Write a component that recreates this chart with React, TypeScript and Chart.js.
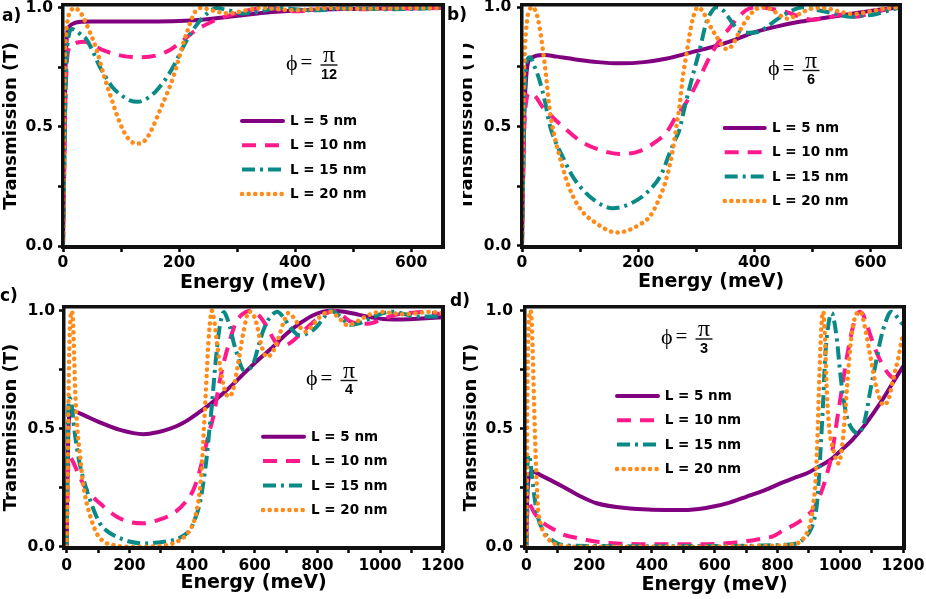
import React, { useEffect, useRef } from 'react';
import { Chart, registerables } from 'chart.js';

Chart.register(...registerables);

type Pt = [number, number];

const seriesLabels = ['L = 5 nm', 'L = 10 nm', 'L = 15 nm', 'L = 20 nm'];
const seriesColors = ['#800080', '#FF1A8C', '#0A8A86', '#FF8C1A'];
const seriesWidths = [4, 4, 4, 4.5];
const seriesDash: number[][] = [[], [14, 9], [13, 5, 3, 5], [0.1, 6.5]];
const seriesCap = ['round', 'butt', 'butt', 'round'];

const xTicksShort = [0, 100, 200, 300, 400, 500, 600];
const xTicksLong = [0, 100, 200, 300, 400, 500, 600, 700, 800, 900, 1000, 1100, 1200];
const yTicks = [0, 0.25, 0.5, 0.75, 1];
const yLabeled = [0, 0.5, 1];
const xLabelEvery = 200;
const phiDenominators = ['12', '6', '4', '3'];
const panelLetters = ['a)', 'b)', 'c)', 'd)'];
const xTitle = 'Energy (meV)';
const yTitle = 'Transmission (T)';

// ---- panel a : phi = pi/12 ----
const a5: Pt[] = [[0,0],[2,0.35],[4,0.72],[6,0.86],[8,0.905],[12,0.925],[18,0.935],[28,0.941],[50,0.943],[100,0.943],[150,0.943],[200,0.945],[240,0.951],[280,0.961],[320,0.973],[360,0.983],[400,0.99],[450,0.994],[500,0.996],[550,0.998],[600,0.999],[655,1.0]];
const a10: Pt[] = [[0,0],[2,0.3],[4,0.6],[7,0.78],[10,0.83],[15,0.845],[25,0.855],[37,0.858],[50,0.845],[70,0.822],[100,0.8],[130,0.793],[160,0.8],[185,0.825],[205,0.86],[225,0.9],[250,0.935],[275,0.96],[300,0.978],[325,0.993],[350,1.0],[375,0.995],[400,0.986],[430,0.99],[470,0.998],[520,0.995],[580,0.998],[655,1.0]];
const a15: Pt[] = [[0,0],[2,0.3],[4,0.6],[7,0.82],[10,0.885],[15,0.912],[22,0.905],[30,0.89],[40,0.87],[52,0.815],[63,0.755],[75,0.705],[86,0.665],[100,0.635],[115,0.612],[129,0.606],[145,0.62],[160,0.65],[175,0.695],[190,0.753],[210,0.85],[230,0.928],[250,0.98],[265,1.0],[285,0.99],[310,0.977],[340,0.985],[370,1.0],[400,0.995],[430,0.99],[480,0.998],[560,0.995],[655,1.0]];
const a20: Pt[] = [[0,0],[1.5,0.4],[3,0.75],[5,0.88],[9,0.96],[14,0.99],[20,1.0],[27,0.99],[33,0.97],[39,0.94],[46,0.9],[58,0.824],[70,0.72],[82,0.63],[92,0.557],[105,0.48],[117,0.44],[129,0.43],[142,0.445],[155,0.5],[167,0.57],[180,0.645],[190,0.71],[200,0.79],[207,0.85],[214,0.9],[221,0.95],[228,0.985],[237,1.0],[250,0.995],[265,0.985],[285,0.977],[305,0.985],[330,0.997],[345,1.0],[370,0.995],[400,0.99],[430,0.995],[460,1.0],[500,0.997],[550,0.998],[600,1.0],[655,1.0]];

// ---- panel b : phi = pi/6 ----
const b5: Pt[] = [[0,0],[2,0.3],[4,0.55],[7,0.7],[10,0.765],[15,0.785],[25,0.797],[39,0.8],[60,0.793],[90,0.782],[130,0.77],[170,0.765],[210,0.77],[250,0.785],[290,0.81],[330,0.835],[360,0.858],[400,0.895],[440,0.92],[480,0.94],[520,0.955],[560,0.97],[600,0.985],[651,1.0]];
const b10: Pt[] = [[0,0],[2,0.3],[4,0.5],[7,0.6],[12,0.64],[20,0.635],[36,0.58],[50,0.545],[70,0.5],[100,0.44],[130,0.405],[168,0.385],[200,0.395],[230,0.435],[250,0.48],[265,0.54],[280,0.59],[290,0.63],[305,0.7],[323,0.79],[340,0.86],[357,0.912],[375,0.965],[392,0.995],[410,1.0],[430,0.993],[450,0.985],[475,0.963],[500,0.948],[525,0.955],[550,0.97],[575,0.96],[600,0.975],[625,0.99],[651,1.0]];
const b15: Pt[] = [[0,0],[2,0.3],[4,0.6],[7,0.75],[10,0.785],[14,0.79],[20,0.76],[30,0.695],[40,0.6],[47,0.513],[57,0.44],[70,0.373],[85,0.3],[100,0.248],[125,0.19],[156,0.157],[190,0.18],[220,0.234],[240,0.3],[254,0.387],[263,0.44],[271,0.485],[280,0.58],[289,0.667],[298,0.75],[306,0.821],[317,0.933],[326,0.98],[335,1.0],[345,0.99],[355,0.96],[365,0.925],[375,0.9],[390,0.893],[404,0.895],[420,0.915],[438,0.947],[460,0.98],[484,1.0],[505,0.99],[536,0.975],[567,0.96],[590,0.965],[607,0.97],[630,0.985],[651,1.0]];
const b20: Pt[] = [[0,0],[1,0.3],[2.5,0.6],[5,0.82],[9,0.95],[13,0.99],[18,1.0],[24,0.98],[30,0.92],[36,0.82],[42,0.7],[47,0.583],[55,0.47],[65,0.373],[76,0.28],[88,0.206],[105,0.14],[128,0.094],[145,0.068],[162,0.055],[180,0.062],[200,0.085],[220,0.122],[235,0.19],[248,0.276],[258,0.38],[266,0.5],[272,0.6],[277,0.709],[283,0.8],[289,0.89],[295,0.96],[303,1.0],[312,0.98],[322,0.93],[335,0.877],[345,0.84],[352,0.825],[362,0.84],[375,0.9],[390,0.96],[405,0.995],[416,1.0],[430,0.99],[445,0.965],[458,0.952],[472,0.965],[488,0.985],[505,0.997],[525,0.995],[550,0.98],[571,0.972],[600,0.983],[625,0.995],[651,1.0]];

// ---- panel c : phi = pi/4 ----
const c5: Pt[] = [[0,0],[2,0.25],[5,0.48],[10,0.565],[20,0.575],[42,0.565],[100,0.53],[170,0.495],[245,0.477],[290,0.485],[330,0.5],[365,0.52],[394,0.543],[425,0.572],[457,0.603],[495,0.645],[532,0.69],[570,0.74],[610,0.79],[659,0.847],[700,0.9],[745,0.947],[785,0.98],[819,0.996],[845,1.0],[880,0.997],[915,0.988],[960,0.975],[1010,0.965],[1064,0.963],[1120,0.966],[1201,0.972]];
const c10: Pt[] = [[0,0],[2,0.2],[5,0.34],[10,0.38],[20,0.36],[40,0.3],[64,0.24],[106,0.184],[160,0.127],[200,0.105],[245,0.099],[290,0.112],[340,0.141],[380,0.19],[404,0.24],[420,0.3],[436,0.381],[452,0.47],[468,0.551],[489,0.706],[505,0.8],[521,0.876],[537,0.94],[553,0.975],[570,0.993],[585,1.0],[600,0.993],[617,0.975],[640,0.93],[665,0.87],[690,0.85],[720,0.87],[760,0.92],[800,0.965],[830,0.99],[851,1.0],[875,0.985],[904,0.955],[940,0.945],[968,0.946],[1000,0.96],[1043,0.98],[1090,0.99],[1139,0.995],[1170,0.99],[1201,0.985]];
const c15: Pt[] = [[0,0],[2,0.3],[5,0.58],[10,0.63],[16,0.6],[24,0.5],[32,0.424],[45,0.33],[64,0.24],[85,0.16],[106,0.099],[130,0.065],[160,0.042],[200,0.022],[245,0.014],[290,0.018],[340,0.028],[370,0.045],[393,0.07],[410,0.12],[425,0.184],[437,0.28],[447,0.381],[455,0.49],[463,0.593],[471,0.72],[479,0.833],[488,0.93],[497,0.985],[502,0.995],[510,0.975],[521,0.932],[532,0.87],[543,0.819],[555,0.77],[564,0.749],[580,0.752],[596,0.777],[612,0.85],[628,0.918],[645,0.965],[662,0.99],[672,0.996],[690,0.975],[712,0.932],[735,0.9],[750,0.895],[770,0.905],[798,0.932],[820,0.97],[840,1.0],[860,0.99],[880,0.965],[904,0.94],[930,0.945],[957,0.96],[990,0.98],[1020,0.993],[1043,0.996],[1080,0.985],[1117,0.975],[1160,0.975],[1201,0.975]];
const c20: Pt[] = [[0,0],[3,0.3],[6,0.65],[9,0.88],[12,0.97],[16,0.998],[20,0.96],[24,0.8],[27,0.664],[34,0.5],[43,0.381],[52,0.27],[64,0.184],[80,0.11],[96,0.056],[120,0.02],[149,0.007],[200,0.0],[250,0.0],[300,0.003],[330,0.01],[361,0.028],[385,0.055],[404,0.099],[416,0.16],[425,0.24],[431,0.33],[436,0.452],[442,0.6],[447,0.734],[452,0.86],[457,0.946],[463,1.0],[470,0.965],[478,0.88],[490,0.76],[503,0.67],[516,0.636],[530,0.66],[545,0.76],[560,0.88],[572,0.96],[580,0.996],[592,0.99],[605,0.95],[620,0.86],[638,0.805],[655,0.82],[675,0.88],[692,0.95],[707,0.99],[725,0.97],[745,0.93],[761,0.911],[780,0.93],[805,0.97],[825,0.99],[840,0.996],[860,0.98],[880,0.955],[894,0.94],[915,0.945],[940,0.965],[970,0.985],[1000,0.995],[1040,0.99],[1080,0.985],[1120,0.99],[1160,0.995],[1201,0.99]];

// ---- panel d : phi = pi/3 ----
const d5: Pt[] = [[0,0],[2,0.15],[5,0.26],[10,0.305],[21,0.318],[50,0.3],[117,0.254],[170,0.215],[224,0.184],[330,0.162],[400,0.157],[479,0.155],[550,0.16],[596,0.17],[650,0.188],[702,0.212],[760,0.24],[809,0.268],[850,0.29],[894,0.311],[930,0.338],[967,0.367],[1000,0.405],[1040,0.455],[1075,0.51],[1105,0.565],[1138,0.63],[1170,0.7],[1203,0.77]];
const d10: Pt[] = [[0,0],[2,0.1],[5,0.17],[9,0.185],[15,0.17],[25,0.145],[43,0.113],[60,0.095],[85,0.075],[120,0.05],[170,0.035],[220,0.022],[300,0.013],[400,0.01],[500,0.01],[600,0.012],[680,0.02],[755,0.035],[787,0.045],[819,0.07],[862,0.1],[890,0.127],[915,0.16],[930,0.2],[947,0.26],[958,0.31],[968,0.36],[979,0.44],[989,0.53],[1000,0.625],[1011,0.72],[1022,0.81],[1032,0.88],[1042,0.94],[1052,0.98],[1062,0.996],[1072,0.985],[1085,0.94],[1100,0.88],[1120,0.81],[1138,0.763],[1155,0.73],[1170,0.715],[1185,0.72],[1203,0.745]];
const d15: Pt[] = [[0,0],[2,0.2],[4,0.35],[8,0.39],[12,0.37],[18,0.3],[26,0.21],[38,0.12],[53,0.07],[80,0.03],[117,0.007],[200,0.003],[400,0.002],[600,0.003],[750,0.005],[820,0.008],[862,0.014],[885,0.035],[905,0.07],[918,0.12],[926,0.184],[931,0.27],[936,0.381],[941,0.5],[946,0.63],[952,0.805],[960,0.92],[967,0.975],[973,0.99],[980,0.96],[990,0.87],[1000,0.734],[1010,0.63],[1021,0.55],[1037,0.5],[1058,0.48],[1075,0.52],[1085,0.58],[1096,0.664],[1112,0.77],[1128,0.876],[1145,0.955],[1162,0.996],[1180,0.975],[1197,0.946],[1203,0.94]];
const d20: Pt[] = [[0,0],[2,0.35],[4,0.7],[7,0.92],[10,0.985],[13,1.0],[16,0.98],[20,0.85],[25,0.6],[30,0.38],[37,0.17],[45,0.1],[55,0.06],[64,0.042],[80,0.02],[100,0.008],[150,0.0],[300,0.0],[500,0.0],[700,0.002],[800,0.005],[862,0.014],[890,0.05],[905,0.1],[914,0.18],[921,0.27],[927,0.45],[932,0.664],[937,0.85],[942,0.975],[946,0.996],[951,0.9],[957,0.664],[965,0.5],[978,0.41],[994,0.353],[1008,0.45],[1021,0.664],[1032,0.85],[1042,0.946],[1053,0.99],[1064,0.996],[1080,0.92],[1096,0.805],[1117,0.664],[1138,0.6],[1155,0.63],[1170,0.72],[1185,0.8],[1197,0.883],[1203,0.9]];

const panelSeries = [[a5, a10, a15, a20], [b5, b10, b15, b20], [c5, c10, c15, c20], [d5, d10, d15, d20]];
const panelXTicks = [xTicksShort, xTicksShort, xTicksLong, xTicksLong];
const panelXRange: [number, number][] = [[0, 655], [0, 651], [-8.6, 1201], [-4.1, 1203]];
const panelYRange: [number, number][] = [[-0.0042, 1.0126], [-0.0055, 1.0096], [-0.0055, 1.0157], [-0.0055, 1.0157]];

// layout (pixels, per panel canvas)
const layouts = [
  { left: 0, top: 0, w: 470, h: 300, area: { l: 63, t: 5, r: 443, b: 247 }, xTitlePad: 7.5, xLabelPad: 2.75, yTitlePad: 2, yLabelPad: 5,
    phi: { x: 329, y: 65 }, legend: { x0: 242, x1: 283, tx: 290, y: 121, dy: 24.3 }, letter: { x: 2, y: 7.3 } },
  { left: 463, top: 0, w: 463, h: 300, area: { l: 59, t: 5, r: 437, b: 247 }, xTitlePad: 8.8, xLabelPad: 2.75, yTitlePad: -4.5, yLabelPad: 5.7,
    phi: { x: 348, y: 70.5 }, legend: { x0: 261.7, x1: 301.7, tx: 309, y: 128, dy: 24.3 }, letter: { x: 447, y: 5.6 } },
  { left: 0, top: 290, w: 470, h: 309, area: { l: 64, t: 17, r: 443, b: 258 }, xTitlePad: 6, xLabelPad: 5, yTitlePad: 2, yLabelPad: 4,
    phi: { x: 349, y: 90.5 }, legend: { x0: 263, x1: 304, tx: 311, y: 146.7, dy: 24.4 }, letter: { x: 0, y: 286.6 } },
  { left: 463, top: 290, w: 463, h: 309, area: { l: 62, t: 17, r: 441, b: 258 }, xTitlePad: 4.5, xLabelPad: 5, yTitlePad: -0.5, yLabelPad: 7,
    phi: { x: 241, y: 49 }, legend: { x0: 154, x1: 195, tx: 201.7, y: 106, dy: 24.3 }, letter: { x: 450, y: 292.3 } },
];

const SANS = '"DejaVu Sans", "Liberation Sans", Arial, sans-serif';
const FRAME = 3.5;
const FRAME_COLOR = '#111111';

const annotPlugin = {
  id: 'annot',
  afterDraw(chart: any, _args: any, opts: any) {
    const ctx: CanvasRenderingContext2D = chart.ctx;
    ctx.save();
    // legend
    const lg = opts.legend;
    chart.data.datasets.forEach((ds: any, i: number) => {
      const y = lg.y + i * lg.dy;
      ctx.beginPath();
      ctx.setLineDash(ds.borderDash || []);
      ctx.lineCap = ds.borderCapStyle || 'butt';
      ctx.lineWidth = ds.borderWidth;
      ctx.strokeStyle = ds.borderColor;
      ctx.moveTo(lg.x0, y);
      ctx.lineTo(lg.x1, y);
      ctx.stroke();
      ctx.setLineDash([]);
      ctx.fillStyle = '#000';
      ctx.font = `bold 13.5px ${SANS}`;
      ctx.textBaseline = 'middle';
      ctx.textAlign = 'left';
      ctx.fillText(ds.label, lg.tx, y + 0.5);
    });
    // phi = pi / n
    const px = opts.phi.x;
    const py = opts.phi.y;
    ctx.fillStyle = '#000';
    ctx.textAlign = 'center';
    ctx.textBaseline = 'middle';
    ctx.font = '22px "Liberation Serif", "DejaVu Serif", serif';
    ctx.fillText('\u03D5', px - 37.3, py - 1);
    ctx.font = '21px "Liberation Serif", "DejaVu Serif", serif';
    ctx.fillText('=', px - 22.5, py - 1.5);
    ctx.textBaseline = 'alphabetic';
    ctx.font = '24px "Liberation Serif", "DejaVu Serif", serif';
    ctx.fillText('\u03C0', px, py - 3);
    ctx.font = 'bold 14.5px "Liberation Sans", Arial, sans-serif';
    ctx.fillText(opts.den, px, py + 13.5);
    ctx.fillStyle = FRAME_COLOR;
    ctx.fillRect(px - 8.5, py - 0.7, 17, 1.4);
    ctx.restore();
  },
};

function buildConfig(idx: number): any {
  const L = layouts[idx];
  const A = L.area;
  const xTicks = panelXTicks[idx];
  const tickFont = { family: SANS, size: 15.5, weight: 'bold', lineHeight: 1 };
  const frameBorder = { display: true, color: FRAME_COLOR, width: FRAME, z: 1 };
  const zeroPad = (s: any) => { s.paddingLeft = 0; s.paddingRight = 0; s.paddingTop = 0; s.paddingBottom = 0; };
  return {
    type: 'line',
    data: {
      datasets: panelSeries[idx].map((s, i) => ({
        label: seriesLabels[i],
        data: s.map(([x, y]) => ({ x, y })),
        borderColor: seriesColors[i],
        backgroundColor: seriesColors[i],
        borderWidth: seriesWidths[i],
        borderDash: seriesDash[i],
        borderCapStyle: seriesCap[i],
        borderJoinStyle: 'round',
        pointRadius: 0,
        pointHoverRadius: 0,
        fill: false,
        cubicInterpolationMode: 'monotone',
        order: 3 - i,
        xAxisID: 'x',
        yAxisID: 'y',
      })),
    },
    options: {
      animation: false,
      responsive: false,
      maintainAspectRatio: false,
      events: [],
      layout: { autoPadding: false, padding: { left: 0, top: A.t, right: L.w - A.r, bottom: 0 } },
      plugins: {
        legend: { display: false },
        tooltip: { enabled: false },
        title: { display: false },
        annot: { phi: L.phi, legend: L.legend, den: phiDenominators[idx] },
      },
      scales: {
        x: {
          type: 'linear',
          position: 'bottom',
          min: panelXRange[idx][0],
          max: panelXRange[idx][1],
          afterBuildTicks: (s: any) => { s.ticks = xTicks.map((v) => ({ value: v })); },
          afterFit: (s: any) => { s.height = L.h - A.b; zeroPad(s); },
          ticks: {
            autoSkip: false,
            maxRotation: 0,
            minRotation: 0,
            padding: L.xLabelPad,
            color: '#000',
            font: tickFont,
            callback: (v: number) => (v % xLabelEvery === 0 ? String(v) : ''),
          },
          grid: { drawOnChartArea: false, drawTicks: true, tickLength: 5, tickWidth: 2.5, tickColor: '#000', color: '#000' },
          border: frameBorder,
          title: {
            display: true,
            text: xTitle,
            color: '#000',
            font: { family: SANS, size: 19, weight: 'bold', lineHeight: 1 },
            padding: { top: 0, bottom: L.xTitlePad },
          },
        },
        xTop: {
          type: 'linear',
          position: 'top',
          min: panelXRange[idx][0],
          max: panelXRange[idx][1],
          afterFit: (s: any) => { s.height = 0; zeroPad(s); },
          ticks: { display: false },
          grid: { display: true, drawOnChartArea: false, drawTicks: false },
          border: frameBorder,
        },
        y: {
          type: 'linear',
          position: 'left',
          min: panelYRange[idx][0],
          max: panelYRange[idx][1],
          afterBuildTicks: (s: any) => { s.ticks = yTicks.map((v) => ({ value: v })); },
          afterFit: (s: any) => { s.width = A.l; zeroPad(s); },
          ticks: {
            autoSkip: false,
            padding: L.yLabelPad,
            color: '#000',
            font: tickFont,
            callback: (v: number) => (yLabeled.includes(v) ? Number(v).toFixed(1) : ''),
          },
          grid: { drawOnChartArea: false, drawTicks: true, tickLength: 5, tickWidth: 2.5, tickColor: '#000', color: '#000' },
          border: frameBorder,
          title: {
            display: true,
            text: yTitle,
            color: '#000',
            font: { family: SANS, size: 18, weight: 'bold', lineHeight: 1 },
            padding: { top: L.yTitlePad, bottom: 0 },
          },
        },
        yRight: {
          type: 'linear',
          position: 'right',
          min: panelYRange[idx][0],
          max: panelYRange[idx][1],
          afterFit: (s: any) => { s.width = 0; zeroPad(s); },
          ticks: { display: false },
          grid: { display: true, drawOnChartArea: false, drawTicks: false },
          border: frameBorder,
        },
      },
    },
    plugins: [annotPlugin],
  };
}

function Panel({ idx }: { idx: number }) {
  const ref = useRef<HTMLCanvasElement>(null);
  const L = layouts[idx];
  const A = L.area;
  useEffect(() => {
    if (!ref.current) return;
    const chart = new Chart(ref.current, buildConfig(idx));
    return () => chart.destroy();
  }, [idx]);
  return (
    <>
      <canvas
        ref={ref}
        width={L.w}
        height={L.h}
        style={{ position: 'absolute', left: L.left, top: L.top, width: L.w, height: L.h }}
      />
      <div
        style={{
          position: 'absolute',
          left: L.left + A.l - FRAME / 2,
          top: L.top + A.t - FRAME / 2,
          width: A.r - A.l + FRAME,
          height: A.b - A.t + FRAME,
          border: `${FRAME}px solid ${FRAME_COLOR}`,
          boxSizing: 'border-box',
          pointerEvents: 'none',
        }}
      />
    </>
  );
}

export default function App() {
  return (
    <div style={{ position: 'absolute', left: 0, top: 0, width: 926, height: 599, background: '#fff', overflow: 'hidden' }}>
      {layouts.map((_, i) => (
        <Panel key={i} idx={i} />
      ))}
      {layouts.map((L, i) => (
        <div
          key={'lbl' + i}
          style={{
            position: 'absolute',
            left: L.letter.x,
            top: L.letter.y,
            font: `bold 17px ${SANS}`,
            lineHeight: '17px',
            color: '#000',
            whiteSpace: 'nowrap',
          }}
        >
          {panelLetters[i]}
        </div>
      ))}
    </div>
  );
}
